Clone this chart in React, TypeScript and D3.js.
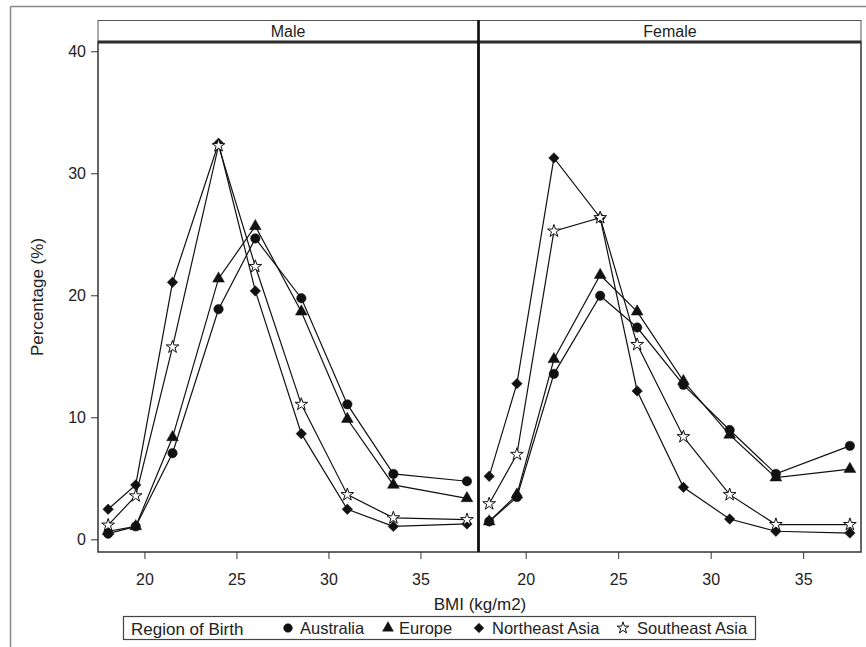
import React from "react";
import * as d3 from "d3";

const bmi = [18, 19.5, 21.5, 24, 26, 28.5, 31, 33.5, 37.5];
const regions = ["Australia", "Europe", "Northeast Asia", "Southeast Asia"];
const panels = ["Male", "Female"];

const maleAustralia = [0.5, 1.1, 7.1, 18.9, 24.7, 19.8, 11.1, 5.4, 4.8];
const maleEurope = [0.7, 1.1, 8.4, 21.4, 25.7, 18.7, 9.9, 4.5, 3.4];
const maleNEAsia = [2.5, 4.5, 21.1, 32.5, 20.4, 8.7, 2.5, 1.1, 1.3];
const maleSEAsia = [1.2, 3.6, 15.8, 32.3, 22.4, 11.1, 3.7, 1.8, 1.65];

const femaleAustralia = [1.5, 3.5, 13.6, 20.0, 17.4, 12.7, 9.0, 5.4, 7.7];
const femaleEurope = [1.5, 3.7, 14.8, 21.7, 18.7, 13.0, 8.6, 5.1, 5.8];
const femaleNEAsia = [5.2, 12.8, 31.3, 26.4, 12.2, 4.3, 1.7, 0.7, 0.55];
const femaleSEAsia = [2.95, 7.0, 25.3, 26.4, 16.0, 8.45, 3.7, 1.25, 1.25];

const xTicks = [20, 25, 30, 35];
const yTicks = [0, 10, 20, 30, 40];

const panelData = [
  [maleAustralia, maleEurope, maleNEAsia, maleSEAsia],
  [femaleAustralia, femaleEurope, femaleNEAsia, femaleSEAsia],
];

const symbolTypes = [d3.symbolCircle, d3.symbolTriangle, d3.symbolSquare, d3.symbolStar];
const symbolSizes = [70, 60, 55, 50];

const FONT = "'Liberation Sans', Arial, sans-serif";

function Marker({ i, x, y, scale = 1 }: { i: number; x: number; y: number; scale?: number }) {
  const path = d3.symbol().type(symbolTypes[i]).size(symbolSizes[i] * scale)()!;
  const isStar = i === 3;
  const rot = i === 2 ? " rotate(45)" : "";
  return (
    <path
      d={path}
      transform={`translate(${x},${y})${rot}`}
      fill={isStar ? "#fff" : "#111"}
      stroke="#111"
      strokeWidth={isStar ? 1 : 0.5}
      strokeLinejoin="miter"
    />
  );
}

export default function App() {
  const W = 866;
  const H = 647;
  const top = 42;
  const bottom = 552;
  const panelX = [
    [98, 478],
    [479, 861],
  ];
  const y = d3.scaleLinear().domain([-1, 40.8]).range([bottom, top]);

  const legendItems = [
    { x: 288, tx: 300 },
    { x: 388, tx: 399 },
    { x: 479, tx: 492 },
    { x: 623, tx: 637 },
  ];

  return (
    <svg width={W} height={H} style={{ display: "block", position: "absolute", left: 0, top: 0 }} fontFamily={FONT}>
      <rect x={0} y={0} width={W} height={H} fill="#fff" />
      <line x1={10.5} y1={6.5} x2={W} y2={6.5} stroke="#888" strokeWidth={1.5} />
      <line x1={10.5} y1={6.5} x2={10.5} y2={H} stroke="#888" strokeWidth={1.5} />

      {/* y axis */}
      {yTicks.map((t) => (
        <g key={t}>
          <line x1={91} x2={98} y1={y(t)} y2={y(t)} stroke="#333" strokeWidth={1} />
          <text x={86} y={y(t) + 5.5} textAnchor="end" fontSize={16} fill="#222">
            {t}
          </text>
        </g>
      ))}
      <text
        transform={`translate(43,${(top + bottom) / 2}) rotate(-90)`}
        textAnchor="middle"
        fontSize={17}
        fill="#222"
      >
        Percentage (%)
      </text>

      {panels.map((name, p) => {
        const [x0, x1] = panelX[p];
        const x = d3.scaleLinear().domain([17.45, 38.1]).range([x0, x1]);
        const line = d3
          .line<number>()
          .x((_, k) => x(bmi[k]))
          .y((v) => y(v));
        return (
          <g key={name}>
            {/* header */}
            <rect x={x0} y={20.5} width={x1 - x0} height={21} fill="#fff" stroke="#555" strokeWidth={1} />
            <text x={(x0 + x1) / 2} y={37} textAnchor="middle" fontSize={16} fill="#222">
              {name}
            </text>
            <line x1={x0} x2={x1} y1={42} y2={42} stroke="#222" strokeWidth={3} />
            {/* panel frame */}
            <rect x={x0} y={top} width={x1 - x0} height={bottom - top} fill="none" stroke="#333" strokeWidth={1.5} />
            {/* x ticks */}
            {xTicks.map((t) => (
              <g key={t}>
                <line x1={x(t)} x2={x(t)} y1={bottom} y2={bottom + 7} stroke="#333" />
                <text x={x(t)} y={585} textAnchor="middle" fontSize={16} fill="#222">
                  {t}
                </text>
              </g>
            ))}
            {/* series */}
            {panelData[p].map((vals, i) => (
              <path key={i} d={line(vals)!} fill="none" stroke="#111" strokeWidth={1.2} />
            ))}
            {panelData[p].map((vals, i) =>
              vals.map((v, k) => <Marker key={`${i}-${k}`} i={i} x={x(bmi[k])} y={y(v)} />)
            )}
          </g>
        );
      })}
      <line x1={478.5} x2={478.5} y1={20} y2={bottom} stroke="#111" strokeWidth={2.5} />

      <text x={480} y={610} textAnchor="middle" fontSize={17} fill="#222">
        BMI (kg/m2)
      </text>

      {/* legend */}
      <rect x={123.5} y={616.5} width={632} height={23} fill="#fff" stroke="#444" strokeWidth={1.2} />
      <text x={131} y={634.5} fontSize={17} fill="#222">
        Region of Birth
      </text>
      {regions.map((r, i) => (
        <g key={r}>
          <Marker i={i} x={legendItems[i].x} y={628} scale={0.85} />
          <text x={legendItems[i].tx} y={634} fontSize={16.5} fill="#222">
            {r}
          </text>
        </g>
      ))}
    </svg>
  );
}
